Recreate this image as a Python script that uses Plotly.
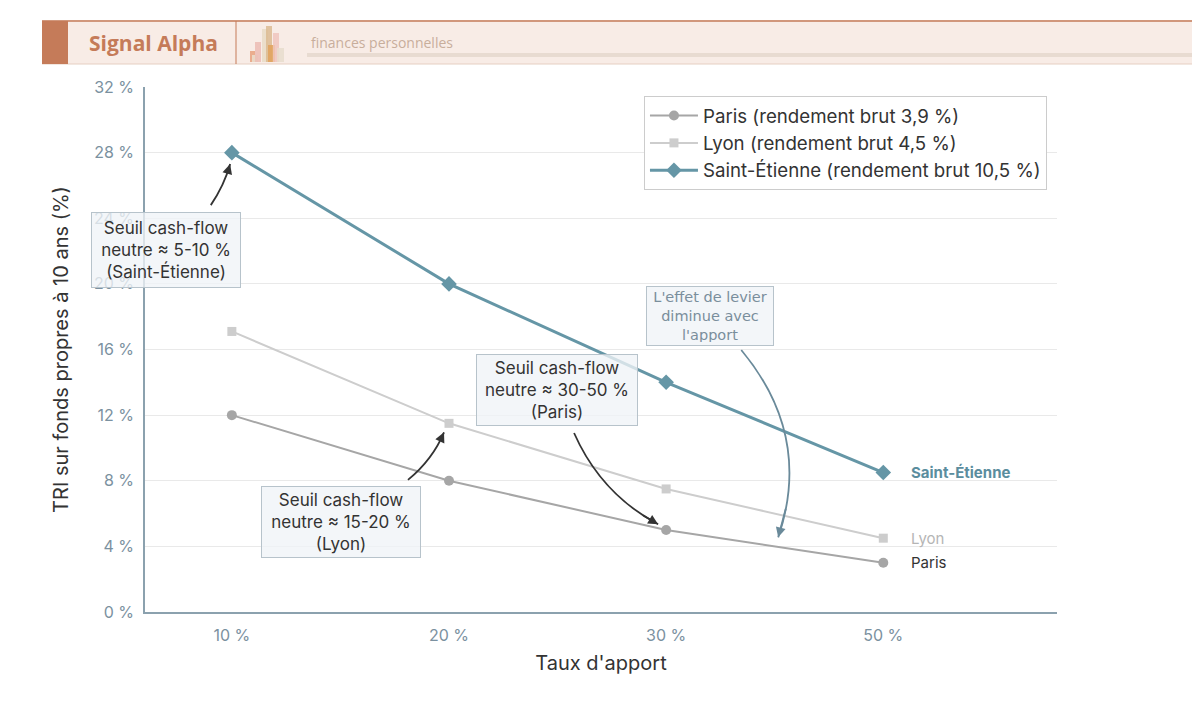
import plotly.graph_objects as go

# ---- data ----
apport_labels = ["10 %", "20 %", "30 %", "50 %"]
paris = [12.0, 8.0, 5.0, 3.0]
lyon = [17.1, 11.5, 7.5, 4.5]
saint_etienne = [28.0, 20.0, 14.0, 8.5]
y_ticks = [0, 4, 8, 12, 16, 20, 24, 28, 32]
y_tick_labels = [f"{v} %" for v in y_ticks]

series_names = ["Paris (rendement brut 3,9 %)", "Lyon (rendement brut 4,5 %)",
                "Saint-Étienne (rendement brut 10,5 %)"]
end_labels = ["Paris", "Lyon", "Saint-Étienne"]

x_idx = list(range(len(apport_labels)))

TEAL = "#6596a6"
PARIS_C = "#a6a6a6"
LYON_C = "#cdcdcd"
FONT = "Inter, Roboto, sans-serif"

fig = go.Figure()
styles = [
    dict(color=PARIS_C, width=2, symbol="circle", size=10),
    dict(color=LYON_C, width=2, symbol="square", size=9),
    dict(color=TEAL, width=3, symbol="diamond", size=12),
]
for name, vals, st in zip(series_names, [paris, lyon, saint_etienne], styles):
    fig.add_trace(go.Scatter(
        x=x_idx, y=vals, name=name, mode="lines+markers",
        line=dict(color=st["color"], width=st["width"]),
        marker=dict(color=st["color"], symbol=st["symbol"], size=st["size"]),
    ))

# end labels
end_styles = [
    dict(color="#333333", size=15, weight="normal"),
    dict(color="#b5b5b5", size=15, weight="normal"),
    dict(color="#5b8d9e", size=15, weight="bold"),
]
for lab, vals, st in zip(end_labels, [paris, lyon, saint_etienne], end_styles):
    fig.add_annotation(x=x_idx[-1], y=vals[-1], text=lab, showarrow=False,
                       xanchor="left", xshift=26, yanchor="middle",
                       font=dict(family=FONT, size=st["size"], color=st["color"],
                                 weight=st["weight"]))

# callout boxes
BOX_BG = "rgba(240,244,247,0.78)"
BOX_BORDER = "#b7c3cb"
boxes = [
    (-0.304, 22.05, "Seuil cash-flow<br>neutre ≈ 5-10 %<br>(Saint-Étienne)", 17, "#333333", FONT, 142, 68),
    (0.502, 5.49, "Seuil cash-flow<br>neutre ≈ 15-20 %<br>(Lyon)", 17, "#333333", FONT, 152, 64),
    (1.498, 13.53, "Seuil cash-flow<br>neutre ≈ 30-50 %<br>(Paris)", 17, "#333333", FONT, 154, 64),
    (2.203, 18.04, "L'effet de levier<br>diminue avec<br>l'apport", 14.5, "#7a8e9c",
     "DejaVu Sans, sans-serif", 120, 52),
]
for bx, by, txt, fs, fc, ff, w, h in boxes:
    fig.add_annotation(x=bx, y=by, text=txt, showarrow=False, align="center",
                       font=dict(family=ff, size=fs, color=fc),
                       bgcolor=BOX_BG, bordercolor=BOX_BORDER, borderwidth=1,
                       borderpad=3, width=w, height=h)

# curved arrows: (tail, control, head, color)
arrows = [
    ((-0.097, 24.8), (-0.035, 26.0), (-0.008, 27.3), "#333333"),
    ((0.811, 8.05), (0.925, 9.3), (0.977, 10.95), "#333333"),
    ((1.576, 10.91), (1.70, 7.2), (1.963, 5.35), "#333333"),
    ((2.346, 15.97), (2.675, 10.73), (2.516, 4.55), "#6a8a9a"),
]
for (x0, y0), (cx, cy), (x1, y1), col in arrows:
    fig.add_shape(type="path", xref="x", yref="y",
                  path=f"M {x0},{y0} Q {cx},{cy} {x1},{y1}",
                  line=dict(color=col, width=1.8))
    t = 0.85
    px = (1 - t) ** 2 * x0 + 2 * (1 - t) * t * cx + t ** 2 * x1
    py = (1 - t) ** 2 * y0 + 2 * (1 - t) * t * cy + t ** 2 * y1
    fig.add_annotation(x=x1, y=y1, ax=px, ay=py, axref="x", ayref="y", text="",
                       showarrow=True, arrowhead=2, arrowsize=1.1, arrowwidth=1.8,
                       arrowcolor=col, standoff=0)

# ---- layout geometry (page is offset by 8 px body margin) ----
W, H = 1192, 713
L, R, T, B = 137, 143, 79, 109
PW, PH = W - L - R, H - T - B
OFF = 8


def px2x(p):
    return (p - OFF - L) / PW


def py2y(p):
    return (H - B - (p - OFF)) / PH


TERRA = "#c57b59"
fig.add_shape(type="rect", xref="paper", yref="paper", x0=px2x(42), x1=px2x(1200),
              y0=py2y(64), y1=py2y(20), fillcolor="#f8ece6", line=dict(width=0), layer="below")
fig.add_shape(type="line", xref="paper", yref="paper", x0=px2x(42), x1=px2x(1200),
              y0=py2y(21), y1=py2y(21), line=dict(color=TERRA, width=1.5))
fig.add_shape(type="line", xref="paper", yref="paper", x0=px2x(42), x1=px2x(1200),
              y0=py2y(64), y1=py2y(64), line=dict(color="#e6cfc2", width=1))
fig.add_shape(type="rect", xref="paper", yref="paper", x0=px2x(42), x1=px2x(68),
              y0=py2y(64), y1=py2y(21), fillcolor=TERRA, line=dict(width=0))
fig.add_shape(type="line", xref="paper", yref="paper", x0=px2x(236), x1=px2x(236),
              y0=py2y(64), y1=py2y(21), line=dict(color=TERRA, width=1))
fig.add_shape(type="rect", xref="paper", yref="paper", x0=px2x(307), x1=px2x(1200),
              y0=py2y(57), y1=py2y(53), fillcolor="#e8dbd1", line=dict(width=0))
icon_bars = [
    (250, 255, 51, "#e8a27e"), (252, 258, 55, "#eadfcf"), (255, 261, 42, "#ecbcb3"),
    (262, 268, 29, "#e9dcc6"), (266, 272, 26, "#dcbb92"), (268, 275, 45, "#e1a25c"),
    (273, 279, 33, "#f0c6bd"), (277, 284, 48, "#e7ddcc"),
]
for a, b, top, c in icon_bars:
    fig.add_shape(type="rect", xref="paper", yref="paper", x0=px2x(a), x1=px2x(b),
                  y0=py2y(62), y1=py2y(top), fillcolor=c, opacity=0.85, line=dict(width=0))
fig.add_annotation(xref="paper", yref="paper", x=px2x(153), y=py2y(43), text="Signal Alpha",
                   showarrow=False, xanchor="center", yanchor="middle",
                   font=dict(family="Open Sans, sans-serif", size=21, color=TERRA, weight="bold"))
fig.add_annotation(xref="paper", yref="paper", x=px2x(309), y=py2y(42), text="finances personnelles",
                   showarrow=False, xanchor="left", yanchor="middle",
                   font=dict(family="Open Sans, sans-serif", size=14, color="#c8ae9c"))

AXIS_C = "#8ba1ae"
TICK_C = "#7b91a0"
fig.update_layout(
    width=W, height=H,
    margin=dict(l=L, r=R, t=T, b=B),
    paper_bgcolor="white", plot_bgcolor="white",
    font=dict(family=FONT, color="#333333"),
    showlegend=True,
    legend=dict(x=0.989, y=0.983, xanchor="right", yanchor="top",
                bgcolor="white", bordercolor="#cccccc", borderwidth=1,
                itemwidth=48,
                font=dict(family=FONT, size=18.7, color="#333333")),
    xaxis=dict(
        range=[-0.4, 3.8], tickvals=x_idx, ticktext=apport_labels,
        showgrid=False, zeroline=False, showline=True, linecolor=AXIS_C, linewidth=1.5,
        ticks="outside", ticklen=8, tickcolor="rgba(0,0,0,0)",
        tickfont=dict(family=FONT, size=16, color=TICK_C),
        title=dict(text="Taux d'apport", font=dict(family=FONT, size=20, color="#333333"), standoff=12),
    ),
    yaxis=dict(
        range=[0, 32], tickvals=y_ticks, ticktext=y_tick_labels,
        showgrid=True, gridcolor="#e9e9e9", gridwidth=1, zeroline=False,
        showline=True, linecolor=AXIS_C, linewidth=1.5,
        ticks="outside", ticklen=6, tickcolor="rgba(0,0,0,0)",
        tickfont=dict(family=FONT, size=16, color=TICK_C),
        title=dict(text="TRI sur fonds propres à 10 ans (%)",
                   font=dict(family=FONT, size=20, color="#333333"), standoff=20),
    ),
)

fig.write_html("out.html")
